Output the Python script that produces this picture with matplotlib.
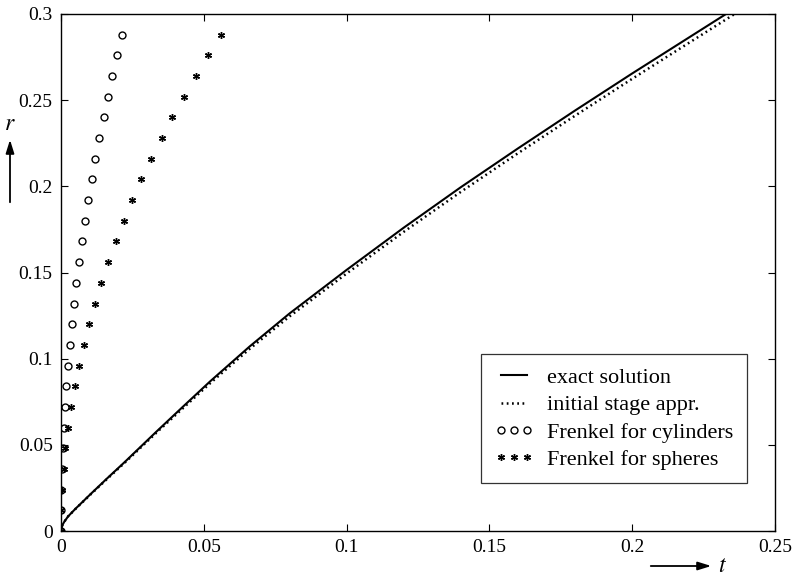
import matplotlib
matplotlib.use("Agg")
import matplotlib.pyplot as plt

plt.rcParams['font.family'] = ['Liberation Serif', 'DejaVu Serif']
plt.rcParams['mathtext.fontset'] = 'stix'

# exact solution r(t)
t_exact = [0, 0.0005, 0.0012, 0.0025, 0.005, 0.0106, 0.016, 0.0223, 0.0335,
           0.043, 0.0522, 0.066, 0.08, 0.1, 0.12, 0.14, 0.16, 0.18, 0.2,
           0.22, 0.234]
r_exact = [0, 0.0035, 0.0055, 0.0085, 0.0128, 0.0218, 0.0303, 0.0400, 0.0578,
           0.0726, 0.0868, 0.1070, 0.1262, 0.1515, 0.1760, 0.1995, 0.2220,
           0.2440, 0.2655, 0.2865, 0.3012]

# initial stage approximation
t_init = [0, 0.0005, 0.0012, 0.0025, 0.005, 0.0106, 0.016, 0.0223, 0.0335,
          0.043, 0.0522, 0.066, 0.08, 0.1, 0.12, 0.14, 0.16, 0.18, 0.2,
          0.22, 0.237]
r_init = [0, 0.0035, 0.0055, 0.0085, 0.0127, 0.0216, 0.0300, 0.0396, 0.0572,
          0.0717, 0.0857, 0.1056, 0.1245, 0.1494, 0.1736, 0.1968, 0.2192,
          0.2410, 0.2624, 0.2834, 0.3012]

# Frenkel model points (same r grid for both)
r_frenkel = [0, 0.012, 0.024, 0.036, 0.048, 0.060, 0.072, 0.084, 0.096, 0.108,
             0.120, 0.132, 0.144, 0.156, 0.168, 0.180, 0.192, 0.204, 0.216,
             0.228, 0.240, 0.252, 0.264, 0.276, 0.288]
t_cyl = [0, 0.00004, 0.00015, 0.00034, 0.0006, 0.00093, 0.00134, 0.00183,
         0.00238, 0.00302, 0.00373, 0.00451, 0.00536, 0.0063, 0.0073, 0.00838,
         0.00954, 0.01077, 0.01207, 0.01345, 0.0149, 0.01643, 0.01803,
         0.01971, 0.02146]
t_sph = [0, 0.0001, 0.00039, 0.00088, 0.00156, 0.00244, 0.00351, 0.00478,
         0.00624, 0.0079, 0.00975, 0.0118, 0.01404, 0.01648, 0.01911, 0.02193,
         0.02496, 0.02817, 0.03159, 0.03519, 0.039, 0.04299, 0.04718, 0.05157,
         0.05615]

x_ticks = [0, 0.05, 0.1, 0.15, 0.2, 0.25]
x_ticklabels = ['0', '0.05', '0.1', '0.15', '0.2', '0.25']
y_ticks = [0, 0.05, 0.1, 0.15, 0.2, 0.25, 0.3]
y_ticklabels = ['0', '0.05', '0.1', '0.15', '0.2', '0.25', '0.3']

fig = plt.figure(figsize=(7.96, 5.83), dpi=100)
ax = fig.add_axes([61 / 796, 1 - 531 / 583, 714 / 796, 517 / 583])

ax.plot(t_exact, r_exact, '-', color='black', lw=1.5, label='exact solution')
ax.plot(t_init, r_init, color='black', lw=1.8, linestyle=(0, (0.7, 1.4)),
        label='initial stage appr.')
ax.plot(t_cyl, r_frenkel, 'o', color='black', mfc='none', ms=5, mew=1.0,
        label='Frenkel for cylinders')
# asterisk markers
ax.plot(t_sph, r_frenkel, marker=(6, 2, 0), linestyle='none', color='black',
        ms=5, mew=1.0, label='Frenkel for spheres')

ax.set_xlim(0, 0.25)
ax.set_ylim(0, 0.3)
ax.set_xticks(x_ticks)
ax.set_xticklabels(x_ticklabels)
ax.set_yticks(y_ticks)
ax.set_yticklabels(y_ticklabels)
ax.tick_params(direction='in', length=5, width=0.8, labelsize=14,
               top=True, right=True, pad=6)
for s in ax.spines.values():
    s.set_linewidth(1.0)

leg = ax.legend(loc='upper left', bbox_to_anchor=(0.588, 0.342),
                borderaxespad=0, fontsize=16, frameon=True, fancybox=False,
                edgecolor='black', numpoints=3, handlelength=1.8,
                handletextpad=0.6, borderpad=0.6, labelspacing=0.3)
leg.get_frame().set_linewidth(0.9)

# axis labels with arrows
fig.text(10 / 796, 1 - 125 / 583, r'$r$', fontsize=17, ha='center', va='center')
ax.annotate('', xy=(10, 583 - 137), xytext=(10, 583 - 205),
            xycoords='figure pixels', textcoords='figure pixels',
            arrowprops=dict(arrowstyle='-|>,head_length=0.8,head_width=0.25',
                            color='black', lw=1.3))
fig.text(718 / 796, 1 - 567 / 583, r'$t$', fontsize=17, ha='left', va='center')
ax.annotate('', xy=(714, 583 - 566), xytext=(648, 583 - 566),
            xycoords='figure pixels', textcoords='figure pixels',
            arrowprops=dict(arrowstyle='-|>,head_length=0.8,head_width=0.25',
                            color='black', lw=1.3))

fig.savefig('out.png', dpi=100)
